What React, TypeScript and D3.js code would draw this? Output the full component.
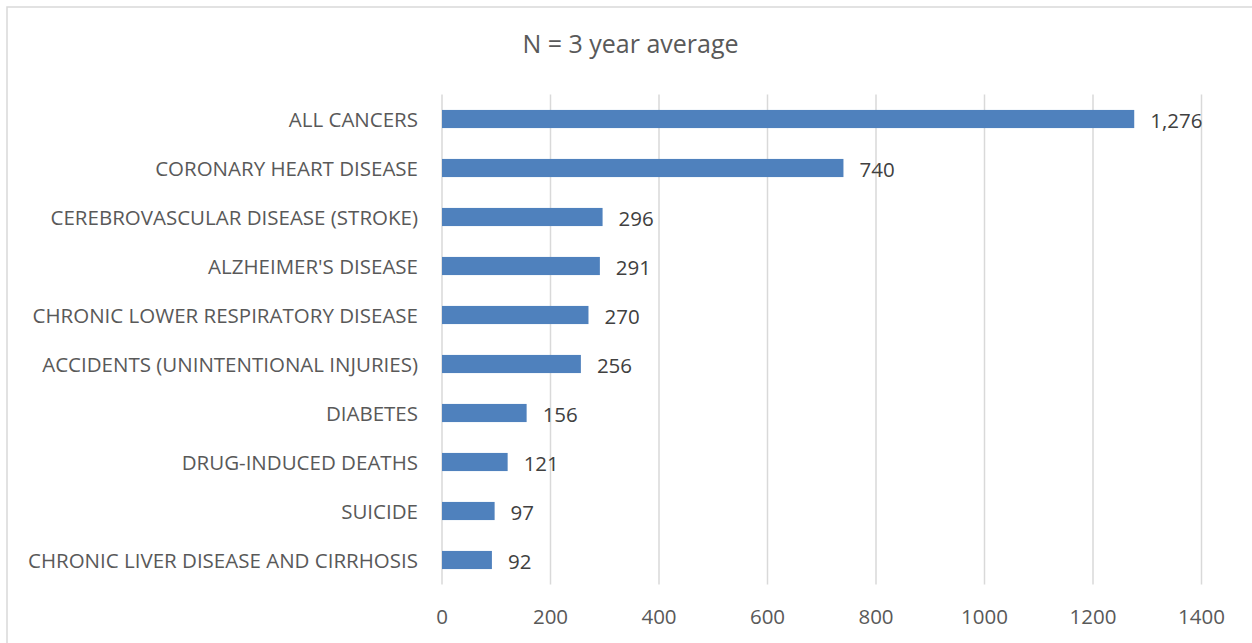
import React from "react";
import * as d3 from "d3";

const categories = [
  "ALL CANCERS",
  "CORONARY HEART DISEASE",
  "CEREBROVASCULAR DISEASE (STROKE)",
  "ALZHEIMER'S DISEASE",
  "CHRONIC LOWER RESPIRATORY DISEASE",
  "ACCIDENTS (UNINTENTIONAL INJURIES)",
  "DIABETES",
  "DRUG-INDUCED DEATHS",
  "SUICIDE",
  "CHRONIC LIVER DISEASE AND CIRRHOSIS",
];
const values = [1276, 740, 296, 291, 270, 256, 156, 121, 97, 92];
const xTicks = [0, 200, 400, 600, 800, 1000, 1200, 1400];
const title = "N = 3 year average";

const W = 1252;
const H = 643;
const margin = { left: 442, right: 1201.5, top: 94.5, bottom: 584.5 };
const font = "'Open Sans', 'Noto Sans', sans-serif";
const textColor = "#595959";

export default function App() {
  const x = d3.scaleLinear().domain([0, 1400]).range([margin.left, margin.right]);
  const y = d3
    .scaleBand<string>()
    .domain(categories)
    .range([margin.top, margin.bottom])
    .paddingInner(0.63)
    .paddingOuter(0.315);
  const fmt = d3.format(",");
  return (
    <svg
      width={W}
      height={H}
      style={{ position: "absolute", left: 0, top: 0, background: "#fff" }}
      fontFamily={font}
    >
      <rect x={7} y={7} width={W + 20} height={H + 20} fill="#fff" stroke="#D9D9D9" strokeWidth={1.5} />
      <text x={630.5} y={53} textAnchor="middle" fontSize={25} fill={textColor}>
        {title}
      </text>
      {xTicks.map((t) => (
        <g key={t}>
          <line x1={x(t)} x2={x(t)} y1={margin.top} y2={margin.bottom} stroke="#D9D9D9" strokeWidth={1.5} />
          <text x={x(t)} y={624} textAnchor="middle" fontSize={20.5} fill={textColor}>
            {t}
          </text>
        </g>
      ))}
      {categories.map((c, i) => {
        const yy = y(c)!;
        const cy = yy + y.bandwidth() / 2;
        return (
          <g key={c}>
            <rect x={x(0)} y={yy} width={x(values[i]) - x(0)} height={y.bandwidth()} fill="#4F81BD" />
            <text x={418} y={cy + 7.5} textAnchor="end" fontSize={20.5} fill={textColor}>
              {c}
            </text>
            <text x={x(values[i]) + 16} y={cy + 9} textAnchor="start" fontSize={20.5} fill="#404040">
              {fmt(values[i])}
            </text>
          </g>
        );
      })}
    </svg>
  );
}
